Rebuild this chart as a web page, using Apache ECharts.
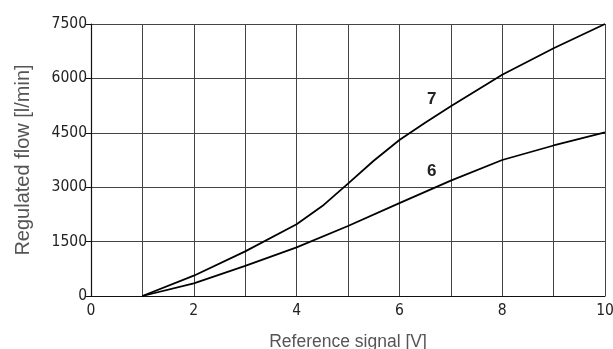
<!DOCTYPE html>
<html><head><meta charset="utf-8">
<script src="https://cdn.jsdelivr.net/npm/echarts@6/dist/echarts.min.js"></script>
<style>html,body{margin:0;padding:0;background:#fff}#c{width:613px;height:349px}</style>
</head><body><div id="c"></div>
<script>
const signal7 = [1, 2, 3, 4, 4.5, 5, 5.5, 6, 6.5, 7, 8, 9, 10];
const flow7 = [0, 560, 1230, 1980, 2480, 3100, 3730, 4300, 4780, 5230, 6100, 6830, 7500];
const signal6 = [1, 2, 3, 4, 5, 6, 7, 8, 9, 10];
const flow6 = [0, 350, 830, 1340, 1930, 2560, 3180, 3750, 4150, 4510];
const curveLabels = ['7', '6'];
const yTicks = [0, 1500, 3000, 4500, 6000, 7500];

const chart = echarts.init(document.getElementById('c'), null, {renderer: 'canvas'});
const tickFont = '"DejaVu Sans Condensed", "Liberation Sans Narrow", sans-serif';
const nameFont = '"Liberation Sans", Arial, sans-serif';
const opt = {
  animation: false,
  backgroundColor: '#fff',
  grid: {left: 91, right: 8, top: 24, bottom: 53, containLabel: false, outerBoundsMode: 'none'},
  xAxis: {
    type: 'value', min: 0, max: 10, interval: 1,
    name: 'Reference signal [V]', nameLocation: 'middle', nameGap: 37,
    nameTextStyle: {color: '#555', fontSize: 17.5, fontFamily: nameFont},
    axisLine: {lineStyle: {color: '#111', width: 1.2}},
    axisTick: {show: false},
    axisLabel: {color: '#222', fontSize: 15.5, fontFamily: tickFont, margin: 7, fontWeight: 300,
      formatter: v => (v % 2 === 0 ? String(v) : '')},
    splitLine: {show: true, lineStyle: {color: '#444', width: 1}}
  },
  yAxis: {
    type: 'value', min: 0, max: 7500, interval: 1500,
    name: 'Regulated flow [l/min]', nameLocation: 'middle', nameGap: 58,
    nameTextStyle: {color: '#555', fontSize: 20, fontFamily: nameFont},
    axisLine: {show: true, lineStyle: {color: '#111', width: 1.2}},
    axisTick: {show: true, length: 5, lineStyle: {color: '#111'}},
    axisLabel: {color: '#222', fontSize: 15.5, fontFamily: tickFont, margin: 4, fontWeight: 300,
      formatter: v => (yTicks.indexOf(v) >= 0 ? String(v) : '')},
    splitLine: {show: true, lineStyle: {color: '#444', width: 1}}
  },
  series: [
    {type: 'line', name: curveLabels[0], data: signal7.map((x, i) => [x, flow7[i]]),
      showSymbol: false, lineStyle: {color: '#000', width: 1.8}},
    {type: 'line', name: curveLabels[1], data: signal6.map((x, i) => [x, flow6[i]]),
      showSymbol: false, lineStyle: {color: '#000', width: 1.8}}
  ],
  graphic: [
    {type: 'text', left: 427, top: 91, style: {text: curveLabels[0], fill: '#222', font: 'bold 17px "Liberation Sans", Arial, sans-serif'}},
    {type: 'text', left: 427, top: 163, style: {text: curveLabels[1], fill: '#222', font: 'bold 17px "Liberation Sans", Arial, sans-serif'}}
  ]
};
chart.setOption(opt);
</script></body></html>
